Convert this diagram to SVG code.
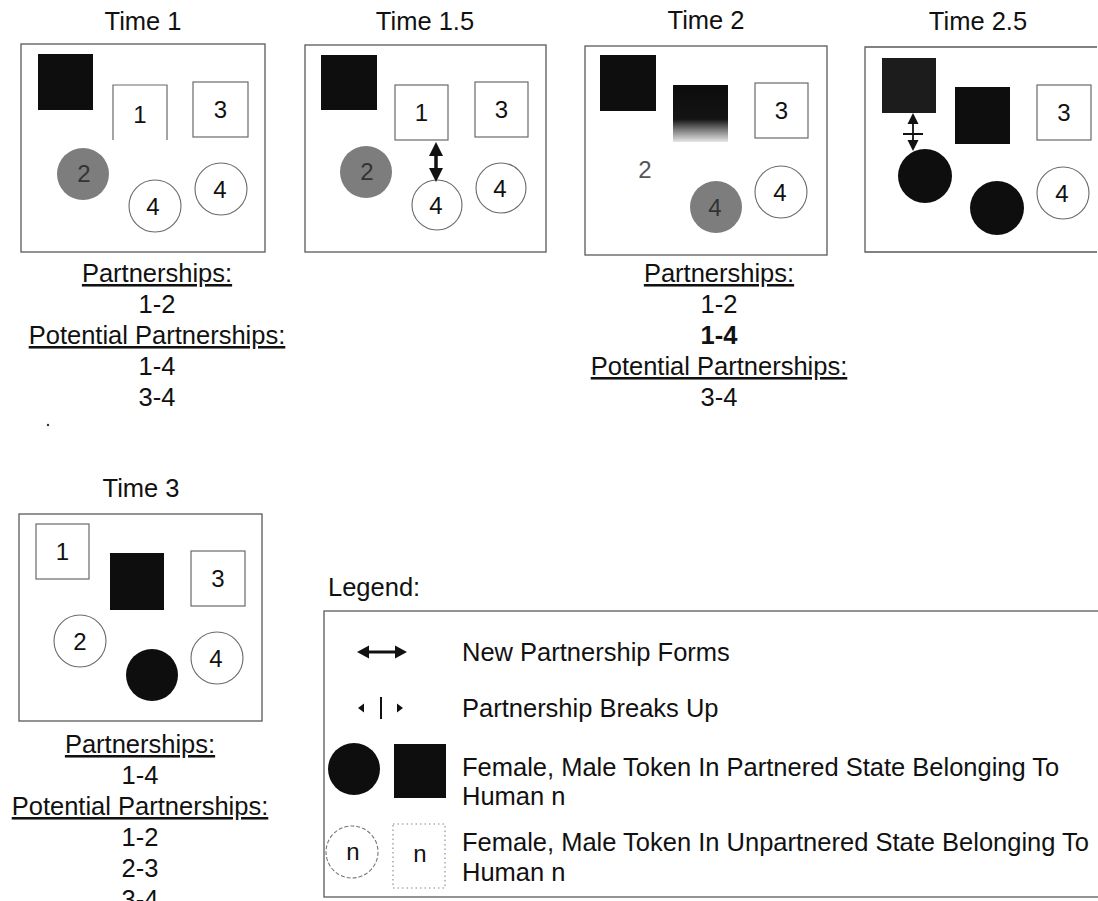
<svg xmlns="http://www.w3.org/2000/svg" width="1098" height="901" viewBox="0 0 1098 901">
<defs>
<style>
text{font-family:"Liberation Sans",Arial,Helvetica,sans-serif;fill:#111;}
.t{font-size:25.5px;text-anchor:middle;}
.n{font-size:24px;text-anchor:middle;}
.u{text-decoration:underline;}
.b{font-weight:bold;}
.lg{font-size:25.5px;}
.dg{fill:#333;}
.lt{fill:#555;}
.panel{fill:none;stroke:#5a5a5a;stroke-width:1.3;}
.m{fill:#fff;stroke:#6a6a6a;stroke-width:1.2;}
.f{fill:#fff;stroke:#6a6a6a;stroke-width:1.1;}
.pk{fill:#0e0e0e;}
.pg{fill:#7d7d7d;}
.ah{fill:#111;stroke:none;}
.sh{stroke:#111;fill:none;}
.dot{fill:#fff;stroke:#888;stroke-width:1.1;stroke-dasharray:1.5 3;}
.dsh{fill:#fff;stroke:#777;stroke-width:1.1;stroke-dasharray:4 2;}
</style>
<linearGradient id="fade" x1="0" y1="0" x2="0" y2="1">
<stop offset="0" stop-color="#0c0c0c"/>
<stop offset="0.6" stop-color="#141414"/>
<stop offset="0.78" stop-color="#777"/>
<stop offset="1" stop-color="#e6e6e6"/>
</linearGradient>
</defs>
<rect width="1098" height="901" fill="#fff"/>

<!-- Time 1 -->
<g id="panel-time1">
<text class="t" x="143" y="30">Time 1</text>
<rect class="panel" x="21" y="44" width="244" height="208"/>
<g id="t1-male2"><rect class="pk" x="38" y="54" width="55" height="56"/></g>
<g id="t1-male1"><path class="m" d="M113,140 V85 H167 V140"/><text class="n" x="140" y="123">1</text></g>
<g id="t1-male3"><rect class="m" x="193" y="82" width="55" height="55"/><text class="n" x="220.5" y="118">3</text></g>
<g id="t1-female2"><circle class="pg" cx="83" cy="174" r="26"/><text class="n dg" x="84" y="182">2</text></g>
<g id="t1-female4a"><circle class="f" cx="155" cy="206" r="26"/><text class="n" x="153" y="215">4</text></g>
<g id="t1-female4b"><circle class="f" cx="221" cy="189" r="26"/><text class="n" x="220" y="198">4</text></g>
<g id="t1-list">
<text class="t u" x="157" y="282">Partnerships:</text>
<text class="t" x="157" y="313">1-2</text>
<text class="t u" x="157" y="344">Potential Partnerships:</text>
<text class="t" x="157" y="375">1-4</text>
<text class="t" x="157" y="406">3-4</text>
</g>
<circle cx="48" cy="425" r="1.2" fill="#333"/>
</g>

<!-- Time 1.5 -->
<g id="panel-time15">
<text class="t" x="425" y="30">Time 1.5</text>
<rect class="panel" x="305" y="45" width="241" height="207"/>
<g id="t15-male2"><rect class="pk" x="321" y="55" width="56" height="55"/></g>
<g id="t15-male1"><rect class="m" x="395" y="85" width="53" height="55"/><text class="n" x="421.5" y="121">1</text></g>
<g id="t15-male3"><rect class="m" x="475" y="82" width="53" height="55"/><text class="n" x="501.5" y="118">3</text></g>
<g id="t15-female2"><circle class="pg" cx="366" cy="172" r="26"/><text class="n dg" x="367" y="180">2</text></g>
<g id="t15-female4a"><circle class="f" cx="437" cy="205" r="25"/><text class="n" x="436" y="214">4</text></g>
<g id="t15-female4b"><circle class="f" cx="501" cy="188" r="25"/><text class="n" x="500" y="197">4</text></g>
</g>

<!-- Time 2 -->
<g id="panel-time2">
<text class="t" x="706" y="29">Time 2</text>
<rect class="panel" x="585" y="46" width="242" height="209"/>
<g id="t2-male2"><rect class="pk" x="600" y="55" width="56" height="56"/></g>
<g id="t2-male1"><rect x="673" y="85" width="55" height="57" fill="url(#fade)"/></g>
<g id="t2-male3"><rect class="m" x="755" y="83" width="53" height="55"/><text class="n" x="781.5" y="119">3</text></g>
<g id="t2-female2"><text class="n lt" x="645" y="178">2</text></g>
<g id="t2-female4a"><circle class="pg" cx="716" cy="207" r="26"/><text class="n dg" x="715" y="216">4</text></g>
<g id="t2-female4b"><circle class="f" cx="781" cy="192" r="26"/><text class="n" x="780" y="201">4</text></g>
<g id="t2-list">
<text class="t u" x="719" y="282">Partnerships:</text>
<text class="t" x="719" y="313">1-2</text>
<text class="t b" x="719" y="344">1-4</text>
<text class="t u" x="719" y="375">Potential Partnerships:</text>
<text class="t" x="719" y="406">3-4</text>
</g>
</g>

<!-- Time 2.5 -->
<g id="panel-time25">
<text class="t" x="978" y="30">Time 2.5</text>
<path class="panel" d="M1097,47 H865 V252 H1097"/>
<g id="t25-male1"><rect x="882" y="58" width="54" height="55" fill="#1c1c1c"/></g>
<g id="t25-male2"><rect class="pk" x="955" y="87" width="55" height="57"/></g>
<g id="t25-male3"><rect class="m" x="1037" y="85" width="54" height="55"/><text class="n" x="1064" y="121">3</text></g>
<g id="t25-female2"><circle class="pk" cx="925" cy="176" r="27"/></g>
<g id="t25-female1"><circle class="pk" cx="997" cy="208" r="27"/></g>
<g id="t25-female4"><circle class="f" cx="1063" cy="193" r="26"/><text class="n" x="1062" y="202">4</text></g>
</g>

<!-- Time 3 -->
<g id="panel-time3">
<text class="t" x="141" y="497">Time 3</text>
<rect class="panel" x="19" y="514" width="243" height="207"/>
<g id="t3-male1"><rect class="m" x="36" y="524" width="53" height="55"/><text class="n" x="62.5" y="560">1</text></g>
<g id="t3-male2"><rect class="pk" x="110" y="553" width="54" height="57"/></g>
<g id="t3-male3"><rect class="m" x="191" y="551" width="54" height="55"/><text class="n" x="218" y="587">3</text></g>
<g id="t3-female2"><circle class="f" cx="80" cy="641" r="26"/><text class="n" x="80" y="650">2</text></g>
<g id="t3-female1"><circle class="pk" cx="152" cy="675" r="26"/></g>
<g id="t3-female4"><circle class="f" cx="217" cy="658" r="26"/><text class="n" x="216" y="667">4</text></g>
<g id="t3-list">
<text class="t u" x="140" y="753">Partnerships:</text>
<text class="t" x="140" y="784">1-4</text>
<text class="t u" x="140" y="815">Potential Partnerships:</text>
<text class="t" x="140" y="846">1-2</text>
<text class="t" x="140" y="877">2-3</text>
<text class="t" x="140" y="908">3-4</text>
</g>
</g>

<!-- Connectors -->
<g id="connectors">
<g id="arrow-t15-1-4">
<line class="sh" x1="436" y1="152" x2="436" y2="172" stroke-width="3.5"/>
<polygon class="ah" points="436,142 429,156 443,156"/>
<polygon class="ah" points="436,182 429,168 443,168"/>
</g>
<g id="arrow-t25-break">
<line class="sh" x1="913" y1="120" x2="913" y2="144" stroke-width="1.8"/>
<polygon class="ah" points="913,113 907.5,124 918.5,124"/>
<polygon class="ah" points="913,151 907.5,140 918.5,140"/>
<line class="sh" x1="903" y1="134" x2="923" y2="134" stroke-width="2"/>
</g>
</g>

<!-- Legend -->
<g id="legend">
<text class="lg" x="328" y="596">Legend:</text>
<rect class="panel" x="324" y="611" width="790" height="286"/>
<g id="legend-new">
<line class="sh" x1="366" y1="652" x2="398" y2="652" stroke-width="3"/>
<polygon class="ah" points="357,652 369,645.5 369,658.5"/>
<polygon class="ah" points="407,652 395,645.5 395,658.5"/>
<text class="lg" x="462" y="661">New Partnership Forms</text>
</g>
<g id="legend-break">
<polygon class="ah" points="358,708 364,703.5 364,712.5"/>
<line class="sh" x1="381" y1="697" x2="381" y2="719" stroke-width="2"/>
<polygon class="ah" points="403,708 397,703.5 397,712.5"/>
<text class="lg" x="462" y="717">Partnership Breaks Up</text>
</g>
<g id="legend-partnered">
<circle class="pk" cx="354" cy="769" r="26"/>
<rect class="pk" x="394" y="744" width="52" height="54"/>
<text class="lg" x="462" y="776">Female, Male Token In Partnered State Belonging To</text>
<text class="lg" x="462" y="805">Human n</text>
</g>
<g id="legend-unpartnered">
<circle class="dsh" cx="352" cy="852" r="26"/>
<text class="n" x="353" y="860">n</text>
<rect class="dot" x="393" y="824" width="52" height="64"/>
<text class="n" x="420" y="862">n</text>
<text class="lg" x="462" y="851">Female, Male Token In Unpartnered State Belonging To</text>
<text class="lg" x="462" y="881">Human n</text>
</g>
</g>
</svg>
